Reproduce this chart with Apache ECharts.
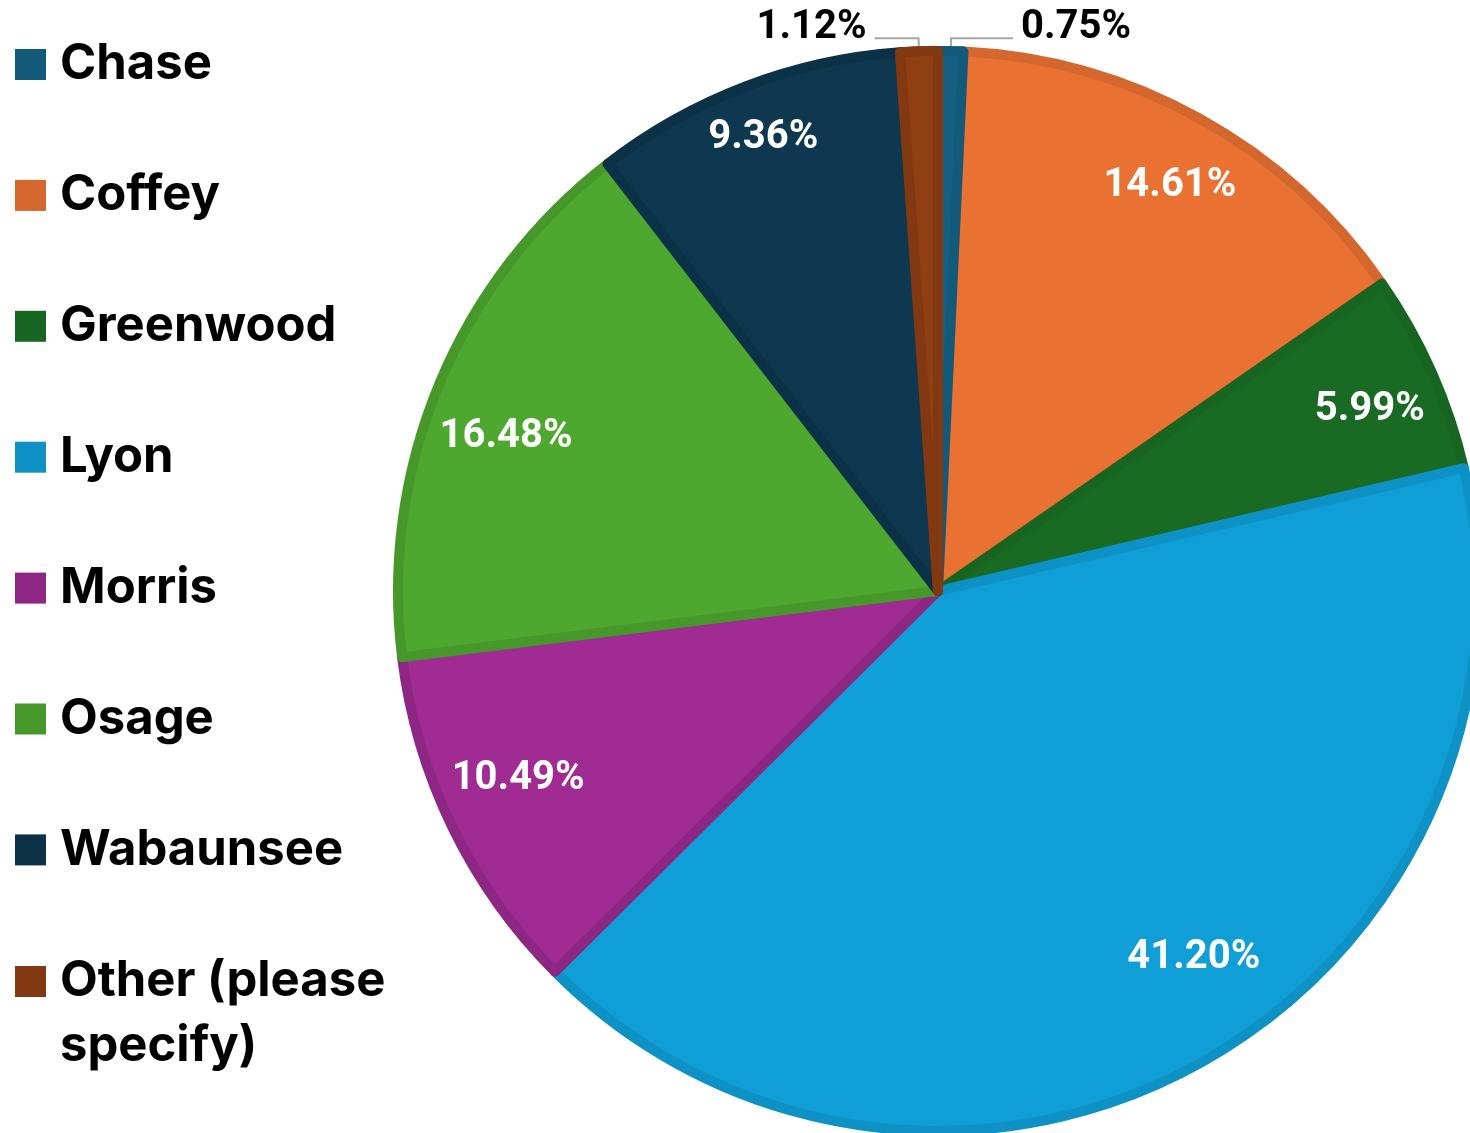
<!DOCTYPE html>
<html>
<head>
<meta charset="utf-8">
<title>County share</title>
<script src="https://cdn.jsdelivr.net/npm/echarts@6/dist/echarts.min.js"></script>
<style>
  html, body { margin: 0; padding: 0; background: #ffffff; }
  #chart { width: 1470px; height: 1133px; }
</style>
</head>
<body>
<div id="chart"></div>
<script>
// Counties, in drawing order (clockwise from 12 o'clock)
const counties = ['Chase', 'Coffey', 'Greenwood', 'Lyon', 'Morris', 'Osage', 'Wabaunsee', 'Other (please specify)'];
// Share of responses, percent
const shares = [0.75, 14.61, 5.99, 41.20, 10.49, 16.48, 9.36, 1.12];
// Slice fill and the darker inner edge of each slice
const fillColors = ['#156082', '#E97132', '#196B24', '#0F9ED5', '#A02B93', '#4EA72E', '#0E3850', '#8F3F12'];
const edgeColors = ['#12597A', '#D4672E', '#186521', '#0E91C4', '#8E2683', '#47982A', '#0B3146', '#823810'];
// Slices whose label sits outside with a leader line
const outsideLabels = ['Chase', 'Other (please specify)'];

const LEGEND_FONT = 'Inter, "Liberation Sans", Arial, sans-serif';
const LABEL_FONT = 'Roboto, "Liberation Sans", Arial, sans-serif';
const cx = 938, cy = 591, R = 545, BW = 10;
const THIN_SLICE = 2; // percent; such slivers are redrawn on top so neighbours' edges do not swallow them

// fine placement of the percentage labels inside their slices
const labelNudge = {
  'Coffey': [5, 4],
  'Greenwood': [4, 9],
  'Lyon': [29, -42],
  'Morris': [1, -17],
  'Osage': [0, 26],
  'Wabaunsee': [-8, -16]
};
// leader line reach for the outside labels
const leaderReach = { 'Chase': 62, 'Other (please specify)': 44 };

const chart = echarts.init(document.getElementById('chart'), null, { renderer: 'canvas' });

const hidden = { color: 'rgba(0,0,0,0)', borderColor: 'rgba(0,0,0,0)', borderWidth: 0 };

const sliceData = counties.map((name, i) => ({
  name,
  value: shares[i],
  itemStyle: { color: fillColors[i], borderColor: edgeColors[i] }
}));

const sliverData = counties.map((name, i) => ({
  name,
  value: shares[i],
  itemStyle: shares[i] < THIN_SLICE
    ? { color: fillColors[i], borderColor: edgeColors[i], borderWidth: BW }
    : hidden
}));

const labelData = counties.map((name, i) => {
  const outside = outsideLabels.includes(name);
  return {
    name,
    value: shares[i],
    label: outside
      ? {
          position: 'outside',
          distanceToLabelLine: 8,
          formatter: (p) => '{o|' + p.value.toFixed(2) + '%}'
        }
      : {
          position: 'inside',
          color: '#ffffff',
          offset: labelNudge[name] || [0, 0]
        },
    labelLine: outside ? { show: true, length: 8, length2: leaderReach[name] } : { show: false }
  };
});

const legendMain = counties.slice(0, 7).map((name, i) => ({
  name,
  itemStyle: { color: edgeColors[i], borderWidth: 0 }
}));
const legendLast = [{ name: counties[7], itemStyle: { color: edgeColors[7], borderWidth: 0 } }];

const legendText = {
  fontFamily: LEGEND_FONT,
  fontWeight: 'bold',
  fontSize: 49,
  lineHeight: 65,
  color: '#000000',
  padding: [0, 0, 0, 9]
};

const pieBase = {
  type: 'pie',
  center: [cx, cy],
  startAngle: 90,
  clockwise: true,
  silent: true,
  avoidLabelOverlap: false
};

chart.setOption({
  animation: false,
  backgroundColor: '#ffffff',
  legend: [
    {
      orient: 'vertical',
      left: 10,
      top: 27,
      padding: 5,
      itemWidth: 31,
      itemHeight: 31,
      itemGap: 65.9,
      icon: 'rect',
      selectedMode: false,
      data: legendMain,
      textStyle: legendText
    },
    {
      orient: 'vertical',
      left: 10,
      top: 879,
      padding: 5,
      itemWidth: 31,
      itemHeight: 31,
      icon: 'rect',
      selectedMode: false,
      data: legendLast,
      // leading blank line keeps the first text line level with the key
      formatter: () => '\nOther (please\nspecify)',
      textStyle: legendText
    }
  ],
  series: [
    Object.assign({}, pieBase, {
      radius: R - BW / 2,
      label: { show: false },
      labelLine: { show: false },
      itemStyle: { borderWidth: BW },
      data: sliceData
    }),
    Object.assign({}, pieBase, {
      radius: R - BW / 2,
      label: { show: false },
      labelLine: { show: false },
      data: sliverData
    }),
    Object.assign({}, pieBase, {
      // transparent ring that carries the percentage labels
      radius: [385, R],
      itemStyle: hidden,
      label: {
        show: true,
        formatter: (p) => p.value.toFixed(2) + '%',
        fontFamily: LABEL_FONT,
        fontWeight: 'bold',
        fontSize: 40,
        rich: {
          o: {
            fontFamily: LABEL_FONT,
            fontWeight: 'bold',
            fontSize: 40,
            color: '#000000',
            padding: [0, 0, 20, 0]
          }
        }
      },
      labelLine: {
        lineStyle: { color: '#A6A6A6', width: 2 }
      },
      data: labelData
    })
  ]
});
</script>
</body>
</html>
